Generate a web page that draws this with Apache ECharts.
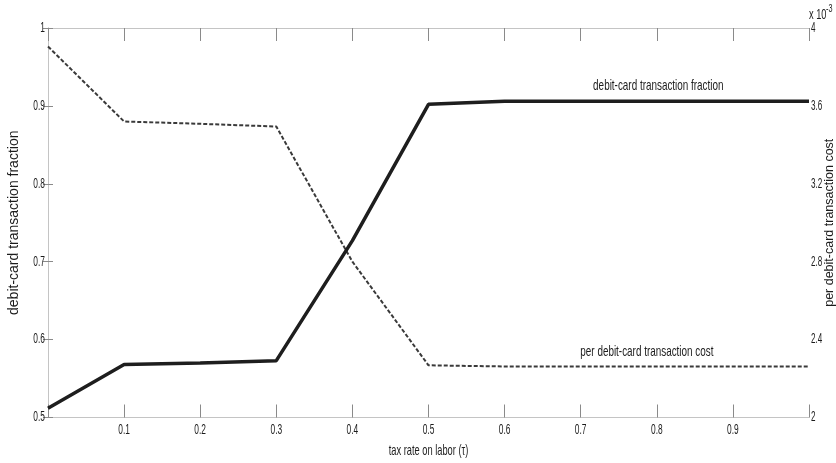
<!DOCTYPE html>
<html>
<head>
<meta charset="utf-8">
<script src="https://cdn.jsdelivr.net/npm/echarts@6/dist/echarts.min.js"></script>
<style>
  html, body { margin: 0; padding: 0; background: #fff; }
  #chart { width: 836px; height: 463px; }
</style>
</head>
<body>
<div id="chart"></div>
<script>
// Tax rate on labor (tau)
const taxRates = [0, 0.1, 0.2, 0.3, 0.4, 0.5, 0.6, 0.7, 0.8, 0.9, 1.0];
// Fraction of transactions paid by debit card (left axis)
const debitFraction = [0.512, 0.568, 0.570, 0.573, 0.727, 0.902, 0.906, 0.906, 0.906, 0.906, 0.906];
// Cost per debit-card transaction, in units of 10^-3 (right axis)
const debitCost = [3.905, 3.520, 3.508, 3.494, 2.800, 2.268, 2.262, 2.262, 2.262, 2.262, 2.262];
// Tick labels
const xTicks = [0.1, 0.2, 0.3, 0.4, 0.5, 0.6, 0.7, 0.8, 0.9];
const leftTicks = [0.5, 0.6, 0.7, 0.8, 0.9, 1];
const rightTicks = [2, 2.4, 2.8, 3.2, 3.6, 4];
// Axis titles
const xTitle = 'tax rate on labor (τ)';
const leftTitle = 'debit-card transaction fraction';
const rightTitle = 'per debit-card transaction cost';
// In-plot curve captions, anchored in data space
const fractionNote = { text: 'debit-card transaction fraction', x: 0.802, y: 0.926 };
const costNote = { text: 'per debit-card transaction cost', x: 0.787, y: 2.337 };

const SANS = '"Liberation Sans", Arial, Helvetica, sans-serif';
const AXIS_GREY = '#c4c4c4';
const TICK_GREY = '#8a8a8a';
const INK = '#1c1c1c';

const chart = echarts.init(document.getElementById('chart'), null, { renderer: 'canvas' });

chart.setOption({
  animation: false,
  backgroundColor: '#ffffff',
  grid: { left: 48, right: 27, top: 28, bottom: 45.5, containLabel: false, outerBoundsMode: 'none' },
  xAxis: [
    {
      type: 'value', min: 0, max: 1, interval: 0.1, position: 'bottom',
      axisLine: { show: true, lineStyle: { color: AXIS_GREY, width: 1 } },
      axisTick: { show: true, inside: true, length: 13, lineStyle: { color: TICK_GREY, width: 1 } },
      axisLabel: { show: false },
      splitLine: { show: false }
    },
    {
      type: 'value', min: 0, max: 1, interval: 0.1, position: 'top',
      axisLine: { show: true, lineStyle: { color: AXIS_GREY, width: 1 } },
      axisTick: { show: true, inside: true, length: 13, lineStyle: { color: TICK_GREY, width: 1 } },
      axisLabel: { show: false },
      splitLine: { show: false }
    }
  ],
  yAxis: [
    {
      type: 'value', min: 0.5, max: 1, interval: 0.1, position: 'left',
      axisLine: { show: true, lineStyle: { color: AXIS_GREY, width: 1 } },
      axisTick: { show: true, inside: true, length: 5, lineStyle: { color: TICK_GREY } },
      axisLabel: { show: false },
      splitLine: { show: false }
    },
    {
      type: 'value', min: 2, max: 4, interval: 0.4, position: 'right',
      axisLine: { show: true, lineStyle: { color: AXIS_GREY, width: 1 } },
      axisTick: { show: true, inside: true, length: 5, lineStyle: { color: TICK_GREY } },
      axisLabel: { show: false },
      splitLine: { show: false }
    }
  ],
  series: [
    {
      name: 'debit-card transaction fraction',
      type: 'line', xAxisIndex: 0, yAxisIndex: 0,
      data: taxRates.map((x, i) => [x, debitFraction[i]]),
      symbol: 'none',
      lineStyle: { color: '#1e1e1e', width: 3.5, type: 'solid' },
      z: 3
    },
    {
      name: 'per debit-card transaction cost',
      type: 'line', xAxisIndex: 0, yAxisIndex: 1,
      data: taxRates.map((x, i) => [x, debitCost[i]]),
      symbol: 'none',
      lineStyle: { color: '#3a3a3a', width: 2, type: [4, 2] },
      z: 2
    }
  ]
});

// Horizontally squeezed text (compressed Helvetica look) centred on a pixel anchor
function narrowText(px, py, text, size, squeeze, align, vAlign) {
  return {
    type: 'text', x: px, y: py, scaleX: squeeze, scaleY: 1, silent: true, z: 10,
    style: {
      text: String(text), fontFamily: SANS, fontSize: size, fill: INK,
      align: align || 'center', verticalAlign: vAlign || 'middle'
    }
  };
}

// Vertical title reading bottom to top
function verticalTitle(px, py, text, size) {
  return {
    type: 'text', x: px, y: py, rotation: Math.PI / 2, silent: true, z: 10,
    style: {
      text, fontFamily: SANS, fontSize: size, fill: INK,
      align: 'center', verticalAlign: 'middle'
    }
  };
}

function buildLabels() {
  const els = [];
  const fmt = v => String(Math.round(v * 10) / 10);
  const bottomPx = chart.convertToPixel({ yAxisIndex: 0 }, 0.5);
  const topPx = chart.convertToPixel({ yAxisIndex: 0 }, 1);
  const leftPx = chart.convertToPixel({ xAxisIndex: 0 }, 0);
  const rightPx = chart.convertToPixel({ xAxisIndex: 0 }, 1);
  const midY = (topPx + bottomPx) / 2;

  xTicks.forEach(t => {
    const px = chart.convertToPixel({ xAxisIndex: 0 }, t);
    els.push(narrowText(px, bottomPx + 13, fmt(t), 14, 0.6));
  });
  leftTicks.forEach(t => {
    const py = chart.convertToPixel({ yAxisIndex: 0 }, t);
    els.push(narrowText(leftPx - 3, py, fmt(t), 14, 0.6, 'right'));
  });
  rightTicks.forEach(t => {
    const py = chart.convertToPixel({ yAxisIndex: 1 }, t);
    els.push(narrowText(rightPx + 2, py, fmt(t), 14, 0.58, 'left'));
  });

  // axis titles
  els.push(narrowText((leftPx + rightPx) / 2, bottomPx + 33, xTitle, 15, 0.62));
  els.push(verticalTitle(leftPx - 34, midY, leftTitle, 14));
  els.push(verticalTitle(rightPx + 21, midY, rightTitle, 12.5));

  // curve captions
  const p1 = chart.convertToPixel({ xAxisIndex: 0, yAxisIndex: 0 }, [fractionNote.x, fractionNote.y]);
  els.push(narrowText(p1[0], p1[1], fractionNote.text, 15, 0.66));
  const p2 = chart.convertToPixel({ xAxisIndex: 0, yAxisIndex: 1 }, [costNote.x, costNote.y]);
  els.push(narrowText(p2[0], p2[1], costNote.text, 15, 0.66));

  // exponent of the right axis
  els.push(narrowText(rightPx, topPx - 6, 'x 10', 14, 0.66, 'left', 'bottom'));
  els.push(narrowText(rightPx + 17, topPx - 14, '-3', 11, 0.66, 'left', 'bottom'));

  chart.setOption({ graphic: els });
}
buildLabels();
</script>
</body>
</html>
